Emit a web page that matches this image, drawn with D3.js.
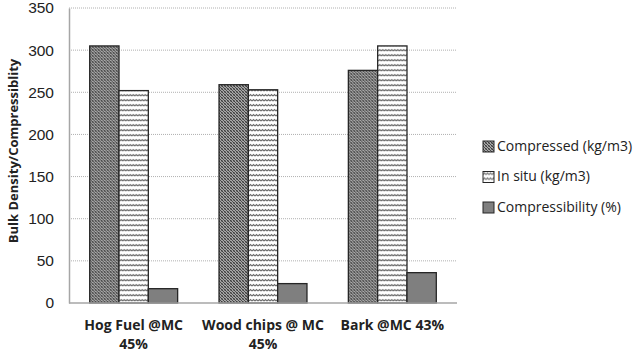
<!DOCTYPE html>
<html>
<head>
<meta charset="utf-8">
<script src="https://cdn.jsdelivr.net/npm/d3@7"></script>
<style>
  body { margin: 0; background: #fff; }
  svg { font-family: "Open Sans", Lato, sans-serif; }
</style>
</head>
<body>
<svg id="chart" width="638" height="352"></svg>
<script>
// data
const categories = [["Hog Fuel @MC", "45%"], ["Wood chips @ MC", "45%"], ["Bark @MC 43%"]];
const seriesNames = ["Compressed (kg/m3)", "In situ (kg/m3)", "Compressibility (%)"];
const compressed = [305, 259, 276];
const inSitu = [252, 253, 305];
const compressibility = [17, 23, 36];
const yTicks = [0, 50, 100, 150, 200, 250, 300, 350];

const svg = d3.select("#chart");
const margin = {top: 8, right: 181, bottom: 49, left: 69};
const w = 638 - margin.left - margin.right;
const h = 352 - margin.top - margin.bottom;

// patterns
const defs = svg.append("defs");
const p1 = defs.append("pattern").attr("id", "pat-comp").attr("patternUnits", "userSpaceOnUse")
    .attr("width", 3).attr("height", 3);
p1.append("rect").attr("width", 3).attr("height", 3).attr("fill", "#d8d8d8");
p1.append("path").attr("d", "M0,0 L3,3 M-1,2 L1,4 M2,-1 L4,1").attr("stroke", "#333").attr("stroke-width", 1.1);
p1.append("path").attr("d", "M3,0 L0,3").attr("stroke", "#555").attr("stroke-width", 0.6);

const p2 = defs.append("pattern").attr("id", "pat-situ").attr("patternUnits", "userSpaceOnUse")
    .attr("width", 3).attr("height", 5);
p2.append("rect").attr("width", 3).attr("height", 5).attr("fill", "#fff");
p2.append("path").attr("d", "M0,3 L1.5,1.5 L3,3").attr("fill", "none")
    .attr("stroke", "#6a6a6a").attr("stroke-width", 1.1);

const fills = ["url(#pat-comp)", "url(#pat-situ)", "#7f7f7f"];

const g = svg.append("g").attr("transform", `translate(${margin.left},${margin.top})`);

const x0 = d3.scaleBand().domain(d3.range(categories.length)).range([0, w]).paddingInner(0.32).paddingOuter(0.16);
const x1 = d3.scaleBand().domain(d3.range(3)).range([0, x0.bandwidth()]);
const y = d3.scaleLinear().domain([0, 350]).range([h, 0]);

// gridlines
g.append("g").selectAll("line").data(yTicks.filter(d => d > 0)).join("line")
    .attr("x1", 0).attr("x2", w)
    .attr("y1", d => y(d)).attr("y2", d => y(d))
    .attr("stroke", "#b0b0b0").attr("stroke-width", 1).attr("stroke-dasharray", "1,1");

const rows = categories.map((c, i) => [compressed[i], inSitu[i], compressibility[i]]);

const groups = g.selectAll("g.grp").data(rows).join("g").attr("class", "grp")
    .attr("transform", (d, i) => `translate(${x0(i)},0)`);
groups.selectAll("rect").data(d => d).join("rect")
    .attr("x", (d, j) => x1(j))
    .attr("width", x1.bandwidth())
    .attr("y", d => y(d))
    .attr("height", d => h - y(d))
    .attr("fill", (d, j) => fills[j])
    .attr("stroke", "#262626").attr("stroke-width", 1.3);

// axes
const yAxis = g.append("g").call(d3.axisLeft(y).tickValues(yTicks).tickSize(0).tickPadding(15));
yAxis.select(".domain").attr("stroke", "#a6a6a6").attr("stroke-width", 1.5);
yAxis.selectAll("text").attr("font-size", 15.5).attr("fill", "#222");

g.append("line").attr("x1", 0).attr("x2", w).attr("y1", h).attr("y2", h)
    .attr("stroke", "#a6a6a6").attr("stroke-width", 1.5);

// category labels
const lab = g.append("g").selectAll("text").data(categories).join("text")
    .attr("x", (d, i) => x0(i) + x0.bandwidth() / 2)
    .attr("y", h + 27)
    .attr("text-anchor", "middle").attr("font-weight", "bold").attr("font-size", 14).attr("fill", "#222");
lab.selectAll("tspan").data(d => d).join("tspan")
    .attr("x", function() { return d3.select(this.parentNode).attr("x"); })
    .attr("dy", (d, k) => k === 0 ? 0 : 19)
    .text(d => d);

// y title
svg.append("text")
    .attr("transform", "translate(18,151) rotate(-90)")
    .attr("text-anchor", "middle").attr("font-weight", "bold").attr("font-size", 13).attr("fill", "#222")
    .text("Bulk Density/Compressiblity");

// legend
const legend = svg.append("g").attr("transform", "translate(483,146)");
seriesNames.forEach((name, i) => {
    const item = legend.append("g").attr("transform", `translate(0,${i * 30.5})`);
    item.append("rect").attr("x", 0).attr("y", -5).attr("width", 11).attr("height", 11)
        .attr("fill", fills[i]).attr("stroke", "#262626").attr("stroke-width", 1);
    item.append("text").attr("x", 14).attr("y", 0).attr("dy", "0.35em")
        .attr("font-size", 14).attr("fill", "#222").text(name);
});
</script>
</body>
</html>
